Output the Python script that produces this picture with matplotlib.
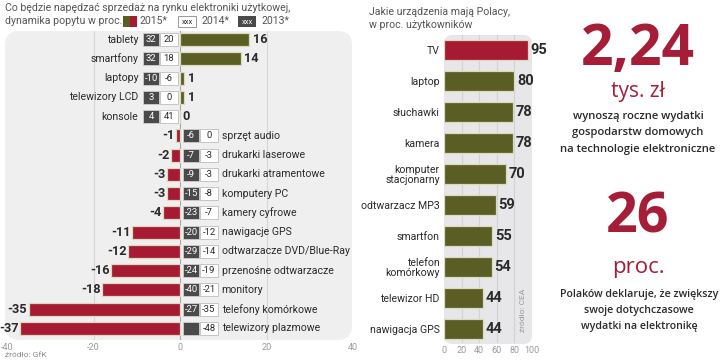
import matplotlib
matplotlib.use("Agg")
import matplotlib.pyplot as plt
from matplotlib.patches import FancyBboxPatch, Rectangle
from matplotlib import font_manager

# ---------------- data ----------------
cats_left = ['tablety', 'smartfony', 'laptopy', 'telewizory LCD', 'konsole',
             'sprzęt audio', 'drukarki laserowe', 'drukarki atramentowe',
             'komputery PC', 'kamery cyfrowe', 'nawigacje GPS',
             'odtwarzacze DVD/Blue-Ray', 'przenośne odtwarzacze', 'monitory',
             'telefony komórkowe', 'telewizory plazmowe']
v2015 = [16, 14, 1, 1, 0, -1, -2, -3, -3, -4, -11, -12, -16, -18, -35, -37]
v2014 = [20, 18, -6, 0, 41, 0, -3, -3, -8, -7, -12, -14, -19, -21, -35, -48]
v2013 = [32, 32, -10, 3, 4, -6, -7, -9, -15, -23, -20, -29, -24, -40, -27, None]
left_ticks = [-40, -20, 0, 20, 40]

cats_right = ['TV', 'laptop', 'słuchawki', 'kamera', 'komputer\nstacjonarny',
              'odtwarzacz MP3', 'smartfon', 'telefon\nkomórkowy',
              'telewizor HD', 'nawigacja GPS']
owners = [95, 80, 78, 78, 70, 59, 55, 54, 44, 44]
right_ticks = [0, 20, 40, 60, 80, 100]

# ---------------- style ----------------
RED = '#a61b31'
GREEN = '#5b5e24'
DARK = '#4a4a4a'
TXT = '#2a2a2a'
EDGE = '#dcd9c0'
FONT = 'Roboto'
plt.rcParams['font.family'] = [FONT, 'DejaVu Sans']

names = {f.name for f in font_manager.fontManager.ttflist}
NUMFONT = 'Liberation Sans Narrow' if 'Liberation Sans Narrow' in names else 'Roboto'

W, H = 720, 361
fig = plt.figure(figsize=(W / 100, H / 100), dpi=100)
fig.patch.set_facecolor('white')


def fx(px):
    return px / W


def fy(py):
    return 1 - py / H


def rect_px(x0, y0, x1, y1):
    return [fx(x0), fy(y1), fx(x1) - fx(x0), fy(y0) - fy(y1)]


# background panels
fig.patches.append(FancyBboxPatch((fx(5), fy(340)), fx(352) - fx(5), fy(31) - fy(340),
                                  boxstyle="round,pad=0,rounding_size=0.02",
                                  transform=fig.transFigure, facecolor='#efefef',
                                  edgecolor='none', zorder=-5, mutation_aspect=2))
fig.patches.append(FancyBboxPatch((fx(444), fy(344)), fx(532) - fx(444), fy(35) - fy(344),
                                  boxstyle="round,pad=0,rounding_size=0.012",
                                  transform=fig.transFigure, facecolor='#e7e7e9',
                                  edgecolor='none', zorder=-5, mutation_aspect=2))

# ---------------- left chart ----------------
ax1 = fig.add_axes(rect_px(7, 31, 353, 340))
ax1.set_zorder(2)
ax1.set_facecolor('none')
n = len(cats_left)
ys = list(range(n))
ax1.set_xlim(-40, 40)
ax1.set_ylim(15.6, -0.45)
for xv in (-20, 20):
    ax1.axvline(xv, color='#d6d6d6', lw=0.8, zorder=1)
ax1.axvline(0, color='#a8a8a8', lw=0.8, zorder=1)

colors = [GREEN if v > 0 else RED for v in v2015]
ax1.barh(ys, v2015, height=0.68, color=colors, edgecolor=EDGE, linewidth=0.9, zorder=3)

bw = 0.68
for y, c, a, b, v in zip(ys, cats_left, v2015, v2014, v2013):
    positive = a >= 0
    if positive:
        dark_x, white_x = -8.6, -4.7
        ax1.text(a + 0.8 if a > 0 else 0.6, y, f'{a}', ha='left', va='center',
                 fontsize=9.2, fontweight='bold', color=TXT, zorder=5,
                 family=NUMFONT, clip_on=False)
        ax1.text(-9.6, y, c, ha='right', va='center', fontsize=7.6, color=TXT, zorder=5)
    else:
        dark_x, white_x = 0.7, 4.6
        ax1.text(a - 0.3, y, f'{a}', ha='right', va='center',
                 fontsize=9.2, fontweight='bold', color=TXT, zorder=5,
                 family=NUMFONT, clip_on=False)
        ax1.text(9.6, y, c, ha='left', va='center', fontsize=7.6, color=TXT, zorder=5)
    ax1.add_patch(Rectangle((dark_x, y - bw / 2), 3.8, bw, facecolor=DARK,
                            edgecolor='#cfcfcf', lw=0.6, zorder=4))
    ax1.add_patch(Rectangle((white_x, y - bw / 2), 4.2, bw, facecolor='white',
                            edgecolor='#bdbdbd', lw=0.6, zorder=4))
    if v is not None:
        ax1.text(dark_x + 1.9, y, f'{v}', ha='center', va='center', fontsize=6.8,
                 color='white', zorder=6)
    ax1.text(white_x + 2.1, y, f'{b}', ha='center', va='center', fontsize=6.8,
             color=TXT, zorder=6)

ax1.set_xticks(left_ticks)
ax1.set_xticklabels([str(t) for t in left_ticks])
ax1.tick_params(axis='x', length=0, pad=2, labelsize=6.5, labelcolor='#9a9a9a')
ax1.set_yticks([])
for s in ax1.spines.values():
    s.set_visible(False)

# ---------------- right chart ----------------
ax2 = fig.add_axes(rect_px(444, 35, 532, 343))
ax2.set_zorder(2)
ax2.set_facecolor('none')
m = len(cats_right)
ys2 = list(range(m))
ax2.set_xlim(0, 100)
ax2.set_ylim(9.45, -0.48)
for xv in (20, 40, 60, 80):
    ax2.axvline(xv, color='#d2d2d4', lw=0.8, zorder=1)
cols2 = [RED] + [GREEN] * (m - 1)
ax2.barh(ys2, owners, height=0.66, color=cols2, edgecolor=EDGE, linewidth=0.9, zorder=3)
for y, v in zip(ys2, owners):
    ax2.text(v + 3, y, f'{v}', ha='left', va='center', fontsize=10.5,
             fontweight='bold', color=TXT, zorder=5, clip_on=False,
             family=NUMFONT)
ax2.set_yticks(ys2)
ax2.set_yticklabels(cats_right, fontsize=7.6, color=TXT, multialignment='right',
                    linespacing=1.0)
ax2.tick_params(axis='y', length=0, pad=3)
ax2.set_xticks(right_ticks)
ax2.set_xticklabels([str(t) for t in right_ticks])
ax2.tick_params(axis='x', length=0, pad=2, labelsize=6.5, labelcolor='#9a9a9a')
for s in ax2.spines.values():
    s.set_visible(False)
ax2.text(90, 8.4, 'źródło: CEA', rotation=90, ha='center', va='center',
         fontsize=6, color='#9a9a9a', zorder=5)

# ---------------- header texts ----------------
HC = '#555555'
fig.text(fx(5), fy(8), 'Co będzie napędzać sprzedaż na rynku elektroniki użytkowej,',
         ha='left', va='center', fontsize=7.6, color=HC)
fig.text(fx(5), fy(21), 'dynamika popytu w proc.', ha='left', va='center',
         fontsize=7.6, color=HC)
fig.patches.append(Rectangle((fx(123), fy(27)), fx(7), fy(0) - fy(11), facecolor=GREEN,
                             transform=fig.transFigure, edgecolor='none'))
fig.patches.append(Rectangle((fx(130), fy(27)), fx(7), fy(0) - fy(11), facecolor=RED,
                             transform=fig.transFigure, edgecolor='none'))
fig.text(fx(139), fy(21), '2015*', ha='left', va='center', fontsize=7.6, color=HC)
fig.patches.append(Rectangle((fx(178), fy(27)), fx(18), fy(0) - fy(11), facecolor='white',
                             transform=fig.transFigure, edgecolor='#888888', lw=0.6))
fig.text(fx(187), fy(21.5), 'xxx', ha='center', va='center', fontsize=5.5, color=TXT)
fig.text(fx(202), fy(21), '2014*', ha='left', va='center', fontsize=7.6, color=HC)
fig.patches.append(Rectangle((fx(238), fy(27)), fx(18), fy(0) - fy(11), facecolor=DARK,
                             transform=fig.transFigure, edgecolor='none'))
fig.text(fx(247), fy(21.5), 'xxx', ha='center', va='center', fontsize=5.5, color='white')
fig.text(fx(261), fy(21), '2013*', ha='left', va='center', fontsize=7.6, color=HC)
fig.text(fx(5), fy(355), 'źródło: GfK', ha='left', va='center', fontsize=6, color='#8a8a8a')

fig.text(fx(369), fy(12), 'Jakie urządzenia mają Polacy,', ha='left', va='center',
         fontsize=7.6, color=HC)
fig.text(fx(369), fy(25), 'w proc. użytkowników', ha='left', va='center',
         fontsize=7.6, color=HC)

# ---------------- right texts ----------------
BIGRED = '#a51d36'
cx = fx(638)
fig.text(cx, fy(50), '2,24', ha='center', va='center', fontsize=41, color=BIGRED,
         family='Open Sans', fontweight='bold')
fig.text(cx, fy(92), 'tys. zł', ha='center', va='center', fontsize=15, color=BIGRED,
         family='Open Sans')
for i, line in enumerate(['wynoszą roczne wydatki', 'gospodarstw domowych',
                          'na technologie elektroniczne']):
    fig.text(cx, fy(117 + 16 * i), line, ha='center', va='center', fontsize=8.1, color=TXT,
             family='Open Sans', fontweight='semibold')
fig.text(cx, fy(218), '26', ha='center', va='center', fontsize=40, color=BIGRED,
         family='Open Sans', fontweight='bold')
fig.text(cx, fy(268), 'proc.', ha='center', va='center', fontsize=16, color=BIGRED,
         family='Open Sans')
for i, line in enumerate(['Polaków deklaruje, że zwiększy', 'swoje dotychczasowe',
                          'wydatki na elektronikę']):
    fig.text(fx(639), fy(294 + 16 * i), line, ha='center', va='center', fontsize=7.7,
             color=TXT, family='Open Sans', fontweight='semibold')

fig.savefig('out.png', dpi=100)
